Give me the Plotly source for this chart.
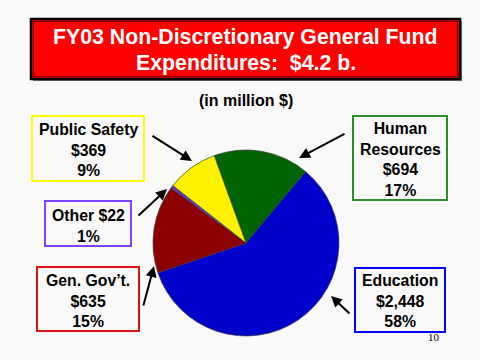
import plotly.graph_objects as go

W, H = 480, 360

# ---- data ----
categories = ["Human Resources", "Education", "Gen. Gov’t.", "Other", "Public Safety"]
label_names = ["Human<br>Resources", "Education", "Gen. Gov’t.", "Other", "Public Safety"]
name_sep = ["<br>", "<br>", "<br>", " ", "<br>"]
values = [694, 2448, 635, 22, 369]
percents = [17, 58, 15, 1, 9]
slice_colors = ["#006400", "#0000CC", "#8C0000", "#6633CC", "#FFF200"]
box_colors = ["#2E8B2E", "#0000FF", "#E01010", "#8040FF", "#FFFF00"]

title_lines = ["FY03 Non-Discretionary General Fund", "Expenditures:  $4.2 b."]
subtitle = "(in million $)"
page_no = "10"

# ---- layout helpers (pixel -> paper) ----
def px(x):
    return x / W

def py(y):
    return 1 - y / H

FONT = "Liberation Sans, Arial, sans-serif"

fig = go.Figure()

cx, cy, r = 246, 243, 93
fig.add_trace(go.Pie(
    values=values,
    labels=categories,
    sort=False,
    direction="clockwise",
    rotation=-20,
    marker=dict(colors=slice_colors, line=dict(color="#3a3a3a", width=0.7)),
    textinfo="none",
    hoverinfo="label+value",
    showlegend=False,
    domain=dict(x=[px(cx - r), px(cx + r)], y=[py(cy + r), py(cy - r)]),
))

shapes = []
annotations = []

# title box: shadow, border, inner line
shapes.append(dict(type="rect", xref="paper", yref="paper",
                   x0=px(33), x1=px(462), y0=py(81), y1=py(21),
                   fillcolor="#777777", line=dict(width=0), layer="below"))
shapes.append(dict(type="rect", xref="paper", yref="paper",
                   x0=px(31), x1=px(460), y0=py(79), y1=py(19),
                   fillcolor="#FF0000", line=dict(color="#000000", width=2.5)))
shapes.append(dict(type="rect", xref="paper", yref="paper",
                   x0=px(33.5), x1=px(457.5), y0=py(76.5), y1=py(21.5),
                   fillcolor="rgba(0,0,0,0)", line=dict(color="#7a0000", width=1)))

for txt, yy in zip(title_lines, [37.5, 63]):
    annotations.append(dict(text=txt, xref="paper", yref="paper", x=px(246), y=py(yy),
                            xanchor="center", yanchor="middle", showarrow=False,
                            font=dict(family=FONT, size=21.3, color="white", weight="bold")))

annotations.append(dict(text=subtitle, xref="paper", yref="paper", x=px(246), y=py(100),
                        xanchor="center", yanchor="middle", showarrow=False,
                        font=dict(family=FONT, size=16, color="black", weight="bold")))

# label boxes (x0, x1, y0, y1) in pixels, order matches categories
boxes = [
    (353, 447, 116, 200),
    (355, 445, 268, 332),
    (37, 139, 267, 331),
    (45, 131, 201, 246),
    (32, 144, 116, 181),
]
text_centers = [(400, 159.5), (400, 300.5), (88, 301), (88, 226), (88, 150)]

for i in range(len(categories)):
    x0, x1, y0, y1 = boxes[i]
    shapes.append(dict(type="rect", xref="paper", yref="paper",
                       x0=px(x0), x1=px(x1), y0=py(y1), y1=py(y0),
                       fillcolor="rgba(0,0,0,0)", line=dict(color=box_colors[i], width=2)))
    txt = f"{label_names[i]}{name_sep[i]}${values[i]:,}<br>{percents[i]}%"
    tx, ty = text_centers[i]
    annotations.append(dict(text=txt, xref="paper", yref="paper", x=px(tx), y=py(ty),
                            xanchor="center", yanchor="middle", showarrow=False,
                            align="center",
                            font=dict(family=FONT, size=15.8, color="black", weight="bold")))

# arrows: (tail_x, tail_y, head_x, head_y) in pixels
arrows = [
    (346, 133, 299, 158),
    (351, 315, 331, 296),
    (143, 307, 154, 266),
    (137, 217, 167, 189),
    (151, 135, 192, 161),
]
for tx, ty, hx, hy in arrows:
    annotations.append(dict(text="", xref="paper", yref="paper", x=px(hx), y=py(hy),
                            ax=tx - hx, ay=ty - hy, showarrow=True,
                            arrowhead=2, arrowsize=1.1, arrowwidth=2, arrowcolor="black",
                            standoff=0, startstandoff=0))

annotations.append(dict(text=page_no, xref="paper", yref="paper", x=px(434), y=py(337),
                        xanchor="center", yanchor="middle", showarrow=False,
                        font=dict(family="Liberation Serif, Times New Roman, serif", size=11, color="black")))

fig.update_layout(
    width=W, height=H,
    margin=dict(l=0, r=0, t=0, b=0),
    paper_bgcolor="#F9F9F9",
    plot_bgcolor="#F9F9F9",
    shapes=shapes,
    annotations=annotations,
)

fig.write_html("out.html",
               config={"displayModeBar": False},
               post_script="document.body.style.margin='0';document.body.style.overflow='hidden';")
